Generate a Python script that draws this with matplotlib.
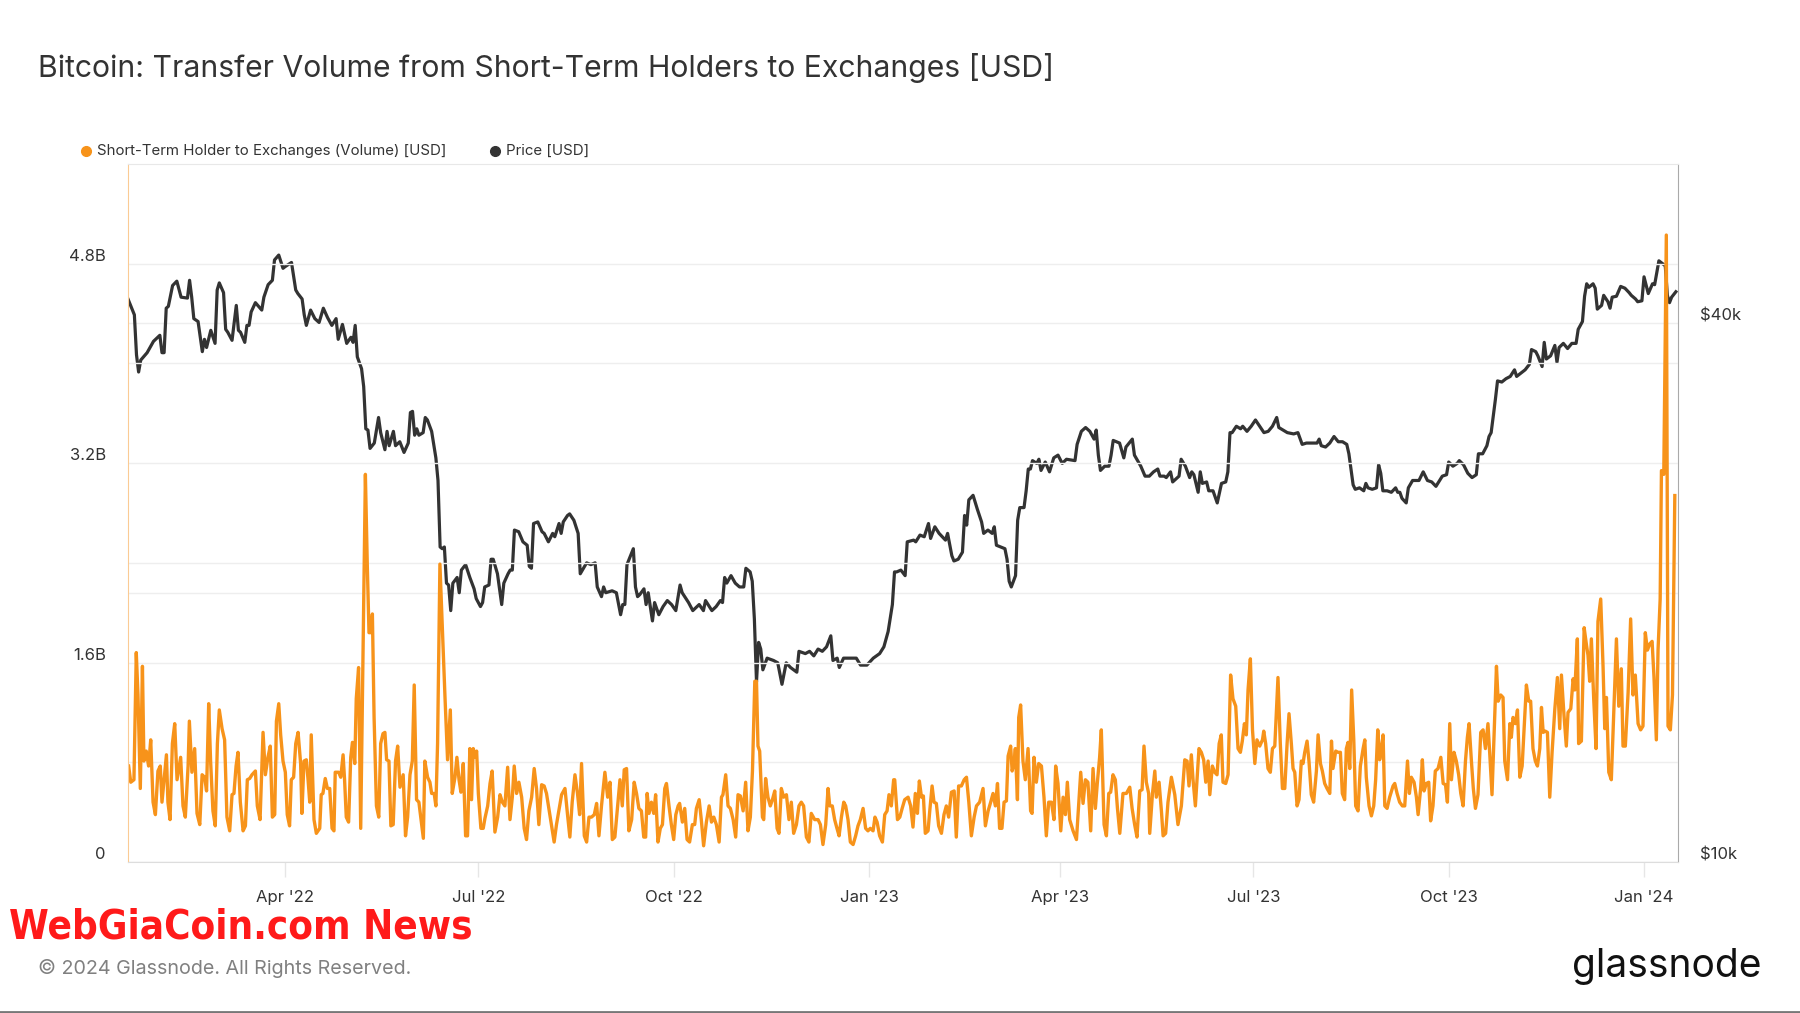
import numpy as np
import pandas as pd
import matplotlib
matplotlib.use("Agg")
import matplotlib.pyplot as plt
import matplotlib.dates as mdates
from matplotlib.lines import Line2D
from matplotlib.ticker import FixedLocator, FixedFormatter, NullLocator

# days counted from the first day of the chart
start = pd.Timestamp("2022-01-17")

# BTC price [k USD]
price_day = [
    0, 3, 4, 5, 6, 9, 12, 15, 16, 17,
    18, 19, 21, 23, 25, 28, 29, 30, 31, 33,
    35, 36, 37, 39, 41, 42, 43, 45, 46, 47,
    49, 51, 52, 53, 55, 56, 57, 58, 60, 63,
    64, 66, 68, 69, 71, 73, 74, 77, 79, 80,
    82, 83, 84, 86, 88, 90, 92, 94, 96, 98,
    99, 101, 103, 105, 106, 107, 108, 110, 111, 112,
    113, 114, 116, 118, 119, 121, 122, 123, 125, 126,
    128, 130, 132, 133, 134, 135, 136, 137, 139, 140,
    141, 143, 145, 146, 147, 148, 149, 150, 151, 152,
    153, 155, 156, 157, 159, 161, 163, 164, 166, 167,
    168, 170, 171, 172, 174, 176, 177, 179, 180, 181,
    182, 184, 186, 188, 189, 190, 191, 193, 195, 196,
    198, 200, 201, 203, 204, 205, 207, 208, 210, 212,
    213, 215, 216, 218, 220, 221, 223, 224, 225, 228,
    230, 232, 233, 234, 235, 236, 238, 239, 240, 241,
    243, 244, 245, 247, 248, 250, 252, 254, 256, 258,
    260, 261, 264, 266, 269, 271, 272, 275, 277, 279,
    280, 281, 282, 284, 286, 288, 290, 291, 293, 294,
    295, 296, 297, 298, 299, 301, 304, 306, 308, 310,
    312, 315, 316, 319, 321, 323, 325, 327, 329, 331,
    332, 334, 335, 337, 340, 343, 345, 348, 351, 354,
    356, 358, 360, 361, 362, 364, 366, 367, 370, 371,
    373, 375, 377, 378, 380, 382, 385, 386, 388, 389,
    391, 393, 394, 395, 396, 398, 400, 402, 403, 405,
    407, 408, 409, 411, 413, 414, 415, 416, 418, 419,
    420, 422, 423, 424, 425, 426, 428, 429, 430, 432,
    434, 436, 438, 440, 442, 446, 447, 449, 451, 453,
    455, 456, 457, 458, 460, 462, 463, 464, 467, 469,
    470, 473, 474, 477, 479, 481, 483, 485, 486, 488,
    489, 491, 492, 495, 496, 498, 500, 501, 502, 504,
    505, 506, 508, 509, 511, 513, 515, 517, 518, 519,
    520, 522, 524, 525, 527, 529, 531, 533, 535, 537,
    539, 541, 542, 544, 546, 549, 551, 553, 555, 557,
    560, 561, 562, 564, 566, 568, 570, 572, 574, 575,
    577, 578, 580, 582, 583, 584, 586, 588, 589, 590,
    591, 593, 595, 597, 598, 599, 600, 602, 603, 605,
    608, 610, 612, 614, 616, 619, 621, 622, 624, 626,
    627, 629, 631, 633, 635, 636, 638, 640, 641, 642,
    644, 645, 647, 649, 651, 653, 654, 656, 658, 660,
    661, 663, 664, 666, 667, 668, 670, 672, 673, 674,
    676, 678, 680, 682, 683, 685, 686, 687, 688, 690,
    691, 692, 694, 695, 697, 698, 699, 701, 703, 705,
    707, 708, 710, 711, 713, 714, 716, 718, 719, 721,
    722, 724, 725, 726, 727, 729,
]
price_k = [
    42.6, 40.9, 36.9, 35.3, 36.4, 37.1, 38.2, 38.8, 37.1, 37.1,
    41.6, 41.8, 44.1, 44.6, 42.8, 42.7, 44.7, 42.8, 40.5, 40.2,
    37.2, 38.4, 37.6, 39.3, 38.0, 43.6, 44.4, 43.3, 39.4, 39.1,
    38.3, 41.9, 39.3, 39.1, 38.1, 39.8, 39.8, 41.2, 42.2, 41.4,
    42.8, 44.2, 44.7, 47.1, 47.7, 46.1, 46.3, 46.8, 43.6, 43.2,
    42.6, 40.9, 39.8, 41.4, 40.5, 40.1, 41.6, 40.6, 39.8, 40.5,
    38.4, 39.9, 38.0, 38.6, 38.1, 39.8, 36.7, 35.6, 34.0, 30.5,
    30.4, 29.0, 29.4, 31.4, 30.2, 28.9, 30.3, 29.2, 30.3, 29.2,
    29.5, 28.7, 29.4, 31.8, 31.9, 30.0, 30.5, 30.0, 30.2, 31.4,
    31.2, 30.3, 28.3, 26.7, 22.5, 22.4, 22.5, 20.5, 20.4, 19.1,
    20.5, 20.8, 20.0, 21.2, 21.5, 20.8, 20.2, 19.7, 19.3, 19.5,
    20.3, 20.4, 21.8, 21.8, 21.0, 19.4, 20.5, 21.0, 21.2, 21.2,
    23.5, 23.4, 22.8, 22.6, 21.4, 21.3, 23.9, 24.0, 23.4, 23.3,
    22.8, 23.3, 23.1, 23.9, 23.3, 24.0, 24.4, 24.5, 24.1, 23.3,
    21.0, 21.4, 21.6, 21.5, 21.6, 20.3, 19.8, 20.3, 20.0, 20.1,
    20.0, 18.9, 19.4, 19.4, 21.5, 21.8, 22.4, 20.3, 19.8, 19.9,
    20.2, 19.4, 20.0, 18.6, 19.5, 18.9, 19.3, 19.6, 19.4, 19.1,
    20.4, 20.0, 19.5, 19.1, 19.4, 19.1, 19.6, 19.1, 19.3, 19.6,
    19.5, 20.8, 20.5, 20.9, 20.5, 20.3, 20.3, 21.3, 21.1, 20.6,
    18.7, 15.9, 17.6, 17.3, 16.4, 16.9, 16.8, 16.7, 15.8, 16.7,
    16.5, 16.3, 17.2, 17.1, 17.2, 17.0, 17.3, 17.2, 17.4, 17.9,
    16.8, 16.9, 16.5, 16.9, 16.9, 16.9, 16.6, 16.6, 16.9, 17.1,
    17.4, 18.1, 19.4, 21.1, 21.1, 21.2, 20.9, 22.8, 22.9, 22.8,
    23.2, 23.1, 23.9, 23.0, 23.7, 23.3, 22.9, 23.3, 22.0, 21.7,
    21.8, 22.2, 24.4, 23.8, 25.4, 25.7, 24.8, 24.0, 23.3, 23.5,
    23.3, 23.7, 22.6, 22.5, 22.4, 21.8, 20.6, 20.3, 20.9, 24.1,
    24.9, 24.9, 26.0, 27.5, 27.5, 28.1, 27.9, 28.2, 27.4, 28.0,
    27.3, 28.3, 28.5, 27.9, 28.2, 28.1, 29.3, 30.3, 30.6, 30.3,
    29.7, 30.4, 28.5, 27.4, 27.7, 27.7, 28.5, 29.6, 29.4, 28.3,
    29.1, 29.7, 28.5, 27.7, 27.0, 27.0, 27.3, 27.5, 27.0, 27.0,
    26.9, 27.3, 26.6, 27.0, 28.2, 27.7, 26.9, 27.3, 27.1, 25.9,
    27.3, 26.5, 26.6, 26.0, 26.0, 25.2, 26.5, 26.6, 27.3, 30.2,
    30.2, 30.7, 30.5, 30.7, 30.3, 30.7, 31.2, 30.7, 30.2, 30.3,
    30.7, 31.4, 30.6, 30.4, 30.2, 30.1, 30.2, 29.3, 29.4, 29.4,
    29.4, 29.7, 29.2, 29.1, 29.4, 29.9, 29.5, 29.5, 29.3, 28.6,
    26.4, 26.1, 26.2, 26.0, 26.5, 26.2, 26.1, 26.2, 27.8, 27.2,
    26.0, 26.0, 25.9, 26.2, 25.9, 25.9, 25.5, 25.2, 26.2, 26.7,
    26.7, 27.3, 26.7, 26.6, 26.3, 27.0, 27.1, 28.0, 27.7, 27.9,
    28.1, 27.8, 27.2, 26.9, 27.1, 28.6, 28.6, 29.2, 29.9, 30.2,
    32.9, 34.5, 34.4, 34.7, 34.9, 35.5, 34.9, 35.2, 35.5, 36.0,
    37.4, 37.2, 36.8, 35.8, 38.1, 36.5, 36.8, 37.8, 36.2, 37.6,
    38.0, 37.5, 38.0, 38.0, 39.4, 40.2, 42.9, 44.3, 43.9, 44.3,
    43.8, 41.5, 41.9, 43.0, 42.3, 41.6, 42.8, 42.9, 44.0, 43.8,
    43.3, 43.0, 42.6, 42.3, 42.4, 45.1, 43.2, 44.3, 44.2, 47.0,
    46.8, 46.4, 43.0, 42.2, 42.8, 43.4,
]

# STH -> exchanges volume [billion USD]
vol_day = [
    0.3, 1.3, 2.8, 3.9, 4.7, 5.8, 6.8, 7.5, 8.6, 9.7,
    10.7, 11.8, 12.9, 14.1, 15.2, 16.0, 17.0, 18.1, 18.8, 19.8,
    20.9, 22.0, 23.1, 24.8, 25.9, 27.0, 28.3, 28.9, 30.1, 31.4,
    32.5, 33.8, 34.9, 36.1, 37.0, 38.0, 38.9, 40.0, 41.1, 42.1,
    43.0, 44.3, 45.5, 46.6, 47.9, 49.0, 49.9, 50.9, 51.8, 52.9,
    54.2, 55.3, 56.2, 57.3, 58.4, 60.0, 60.9, 62.2, 63.6, 64.7,
    65.9, 67.0, 68.0, 69.1, 69.9, 71.0, 71.9, 73.0, 74.1, 75.0,
    76.1, 76.9, 78.0, 79.0, 80.1, 81.3, 81.9, 82.9, 84.0, 84.8,
    85.6, 86.3, 87.6, 88.7, 90.3, 91.0, 91.8, 92.9, 93.9, 95.0,
    96.1, 97.0, 97.6, 99.2, 100.2, 101.3, 102.0, 102.8, 103.9, 104.9,
    105.7, 106.8, 107.5, 108.6, 109.6, 111.8, 112.7, 113.5, 114.3, 115.1,
    115.9, 117.0, 118.1, 119.0, 120.1,
    121.0, 121.8, 122.9, 123.8, 124.9, 126.0, 127.0, 128.1, 129.6, 130.7,
    131.7, 132.8, 133.9, 134.8, 135.9, 137.0, 138.0, 139.1, 139.8, 141.1,
    142.2, 143.0, 144.2, 145.0, 145.8, 146.9, 148.0, 149.3, 150.5, 151.8,
    152.7, 154.0, 154.9, 155.9, 156.8, 157.9, 159.0, 159.9, 161.0, 161.8,
    162.6, 163.4, 164.2, 165.0, 166.2, 167.3, 168.1, 169.4, 170.5, 171.5,
    172.8, 174.1, 175.2, 176.3, 177.5, 178.8, 179.9, 181.0, 181.9, 183.0,
    184.1, 185.4, 186.6, 187.7, 188.8, 190.1, 191.3, 192.4, 193.5, 194.8,
    196.0, 197.1, 198.2, 199.5, 200.7, 201.8, 202.9, 204.2, 205.8, 207.0,
    208.1, 209.2, 210.5, 211.7, 212.7, 213.6, 214.9, 216.0, 217.1, 218.3,
    219.6, 220.7, 221.8, 223.0, 224.6, 225.9, 227.0, 228.1, 229.3, 230.6,
    231.7, 232.8, 233.7, 234.8, 235.9, 237.2, 238.4, 239.5, 240.6,
    241.8, 242.9, 243.8, 244.5, 245.4, 246.5, 247.6, 248.5, 249.6, 250.7,
    251.7, 252.8, 253.6, 254.8, 255.9, 257.0, 258.0, 259.1, 259.8, 261.1,
    262.2, 263.3, 264.5, 265.8, 266.9, 267.7, 269.0, 270.0, 271.1, 272.4,
    273.7, 274.8, 275.9, 277.1, 278.4, 279.5, 280.2, 281.5, 282.6, 283.7,
    285.0, 286.2, 287.3, 288.4, 289.7, 290.9, 292.0, 293.1, 294.1, 295.2,
    296.0, 296.7, 297.5, 298.8, 299.4, 300.3, 301.4, 302.5, 303.5, 304.6,
    305.7, 306.6, 307.7, 308.8, 310.1, 311.3, 312.4, 313.5, 314.8, 316.0,
    317.1, 318.2, 319.5, 320.7, 321.8, 323.4, 325.0, 326.1, 327.3, 328.6,
    329.7, 330.5, 331.7, 332.8, 333.9, 334.9, 336.0, 337.1, 338.0, 339.1,
    340.2, 341.5, 342.7, 343.8, 344.9, 346.2, 347.4, 348.5, 349.6, 350.9,
    351.8, 352.8, 354.0, 355.3, 356.4, 357.5, 358.4, 359.5, 360.6,
    361.1, 362.4, 363.5, 364.6, 365.8, 367.4, 368.6, 369.7, 370.8, 371.8,
    372.7, 373.7, 374.6, 375.5, 376.8, 377.6, 378.7, 379.6, 380.7, 381.8,
    383.1, 384.3, 385.4, 386.5, 387.8, 389.1, 390.1, 391.2, 392.5, 393.8,
    394.9, 396.0, 397.2, 398.5, 399.6, 401.1, 402.7, 403.8, 405.1, 406.3,
    407.4, 408.5, 409.5, 410.5, 411.6, 412.6, 413.7, 414.5, 415.7, 416.4,
    417.3, 417.9, 418.9, 419.5, 420.4, 421.5, 422.6, 423.9, 425.1, 425.8,
    426.7, 427.8, 428.9, 430.2, 431.4, 432.5, 433.6, 434.9, 436.1, 436.9,
    438.0, 439.3, 440.4, 441.5, 442.4, 443.5, 445.1, 446.7, 447.8, 448.7,
    449.8, 450.9, 452.1, 453.4, 454.5, 455.6, 456.5, 457.6, 458.4, 459.7,
    460.8, 461.9, 462.8, 463.9, 465.0, 466.0, 467.1, 468.6, 470.2, 471.8,
    472.9, 474.1, 475.2, 476.5, 477.6, 478.5, 479.6, 480.7,
    481.2, 482.5, 483.6, 484.3, 485.6, 486.7, 487.5, 488.7, 489.8, 491.4,
    493.0, 494.5, 496.1, 497.7, 498.8, 499.7, 500.8, 501.6, 502.7, 504.4,
    505.5, 506.6, 507.6, 508.7, 509.5, 510.7, 511.8, 512.9, 513.9, 514.9,
    515.7, 517.0, 518.1, 519.3, 520.4, 521.7, 522.8, 523.9, 524.8, 525.8,
    526.7, 527.5, 528.6, 529.6, 530.7, 531.7, 533.0, 534.3, 534.9, 535.8,
    536.9, 538.0, 539.0, 540.1, 541.6, 542.7, 543.7, 544.8, 545.9, 546.8,
    547.9, 548.7, 549.5, 550.6, 551.5, 552.6, 553.4, 554.2, 555.3, 556.2,
    557.3, 558.4, 559.7, 560.5, 561.6, 562.5, 563.6, 564.7, 566.0, 566.8,
    567.5, 568.8, 569.9, 571.0, 571.9, 573.0, 573.8, 574.6, 575.4, 576.3,
    577.3, 578.2, 579.3, 580.4, 581.7, 582.5, 583.2, 584.5, 585.6, 586.7,
    587.6, 588.6, 589.5, 590.3, 591.1, 591.9, 593.0, 594.2, 595.8, 596.6,
    597.7, 598.9, 600.2,
    601.3, 602.6, 603.5, 604.4, 605.7, 606.8, 607.6, 608.8, 609.6, 610.4,
    611.5, 612.6, 613.5, 614.6, 615.7, 617.0, 618.3, 619.4, 620.5, 621.4,
    622.5, 623.3, 624.5, 625.6, 626.7, 627.7, 628.8, 629.9, 630.8, 631.6,
    632.7, 633.6, 634.6, 635.8, 637.1, 638.2, 639.3, 640.5, 641.3, 642.4,
    643.4, 644.5, 645.3, 646.5, 647.6, 648.4, 649.7, 650.8, 651.5, 652.3,
    653.4, 654.4, 655.5, 656.6, 657.5, 658.6, 659.7, 660.6, 661.7, 662.8,
    663.8, 664.9, 665.7, 666.5, 667.5, 668.5, 669.6, 670.7, 672.0, 673.2,
    674.3, 675.1, 676.3, 677.4, 678.2, 679.5, 680.6, 681.4, 682.6, 683.2,
    684.5, 685.8, 686.9, 687.6, 688.4, 689.2, 690.3, 691.4, 692.3, 693.6,
    694.7, 695.5, 696.3, 697.4, 698.6, 699.9, 701.0, 702.1, 703.3, 704.1,
    705.2, 706.5, 707.7, 708.8, 709.9, 711.2, 712.4, 713.5, 714.6, 715.6,
    716.7, 717.8, 718.7, 719.8, 720.6, 721.6, 722.2, 723.3, 724.5, 725.3,
    726.4, 727.4, 728.5,
]
vol_b = [
    0.77, 0.64, 0.66, 1.68, 1.34, 0.59, 1.57, 0.81, 0.89, 0.77,
    0.98, 0.48, 0.38, 0.73, 0.77, 0.48, 0.66, 0.86, 0.48, 0.34,
    0.95, 1.11, 0.66, 0.84, 0.45, 0.36, 0.77, 1.13, 0.72, 0.91,
    0.39, 0.30, 0.70, 0.68, 0.57, 1.27, 0.81, 0.41, 0.29, 0.95,
    1.22, 1.07, 0.98, 0.36, 0.25, 0.54, 0.55, 0.77, 0.88, 0.48,
    0.25, 0.29, 0.66, 0.67, 0.70, 0.73, 0.45, 0.34, 1.04, 0.70,
    0.84, 0.93, 0.36, 0.38, 1.13, 1.27, 1.02, 0.81, 0.72, 0.38,
    0.29, 0.66, 0.68, 0.95, 1.04, 0.79, 0.39, 0.81, 0.82, 0.66,
    0.48, 1.02, 0.34, 0.23, 0.27, 0.54, 0.55, 0.67, 0.59, 0.59,
    0.27, 0.25, 0.72, 0.72, 0.68, 0.86, 0.66, 0.36, 0.32, 0.84,
    0.96, 0.79, 1.31, 1.56, 0.27, 3.11, 2.38, 1.84, 1.84, 1.99,
    1.16, 0.45, 0.36, 0.95, 1.03,
    1.04, 0.82, 0.81, 0.29, 0.30, 0.81, 0.93, 0.60, 0.70, 0.21,
    0.36, 0.70, 0.81, 1.42, 0.50, 0.48, 0.34, 0.19, 0.81, 0.68,
    0.64, 0.55, 0.55, 0.45, 0.95, 2.39, 1.90, 1.32, 0.82, 1.22,
    0.55, 0.68, 0.84, 0.66, 0.56, 0.79, 0.21, 0.21, 0.91, 0.50,
    0.91, 0.84, 0.89, 0.55, 0.27, 0.27, 0.35, 0.45, 0.63, 0.73,
    0.24, 0.36, 0.54, 0.48, 0.45, 0.76, 0.34, 0.52, 0.77, 0.55,
    0.64, 0.52, 0.27, 0.18, 0.41, 0.52, 0.75, 0.59, 0.30, 0.62,
    0.61, 0.55, 0.43, 0.29, 0.16, 0.30, 0.41, 0.54, 0.59, 0.38,
    0.20, 0.48, 0.70, 0.55, 0.38, 0.79, 0.21, 0.16, 0.36, 0.36,
    0.38, 0.47, 0.21, 0.45, 0.72, 0.52, 0.64, 0.18, 0.20, 0.45,
    0.66, 0.45, 0.74, 0.75, 0.25, 0.34, 0.64, 0.55, 0.43,
    0.41, 0.20, 0.20, 0.55, 0.39, 0.48, 0.39, 0.54, 0.16, 0.27,
    0.30, 0.59, 0.63, 0.45, 0.30, 0.18, 0.38, 0.45, 0.47, 0.32,
    0.43, 0.18, 0.16, 0.30, 0.30, 0.43, 0.50, 0.34, 0.13, 0.32,
    0.45, 0.32, 0.36, 0.30, 0.16, 0.52, 0.54, 0.70, 0.45, 0.43,
    0.34, 0.20, 0.54, 0.53, 0.41, 0.64, 0.25, 0.36, 0.73, 1.45,
    1.45, 0.93, 0.89, 0.36, 0.34, 0.67, 0.52, 0.45, 0.50, 0.57,
    0.27, 0.23, 0.59, 0.52, 0.54, 0.34, 0.48, 0.23, 0.30, 0.45,
    0.48, 0.45, 0.20, 0.16, 0.39, 0.34, 0.34, 0.30, 0.14, 0.30,
    0.59, 0.45, 0.45, 0.34, 0.27, 0.21, 0.36, 0.48, 0.45, 0.34,
    0.16, 0.14, 0.21, 0.29, 0.34, 0.43, 0.27, 0.25, 0.27, 0.25,
    0.36, 0.32, 0.21, 0.16, 0.38, 0.41, 0.54, 0.45, 0.66,
    0.66, 0.34, 0.36, 0.43, 0.50, 0.52, 0.45, 0.28, 0.55, 0.39,
    0.65, 0.52, 0.53, 0.23, 0.25, 0.41, 0.61, 0.48, 0.47, 0.29,
    0.23, 0.38, 0.45, 0.36, 0.56, 0.57, 0.20, 0.61, 0.61, 0.66,
    0.68, 0.48, 0.21, 0.36, 0.45, 0.48, 0.59, 0.29, 0.41, 0.48,
    0.55, 0.45, 0.63, 0.27, 0.27, 0.48, 0.49, 0.85, 0.93, 0.73,
    0.79, 0.91, 0.50, 1.16, 1.26, 0.81, 0.66, 0.91, 0.41, 0.39,
    0.84, 0.64, 0.79, 0.77, 0.52, 0.21, 0.48, 0.48, 0.34, 0.77,
    0.63, 0.25, 0.52, 0.38, 0.64, 0.34, 0.25, 0.18, 0.48, 0.72,
    0.47, 0.66, 0.64, 0.25, 0.75, 0.43, 0.63, 0.84, 1.06, 0.30,
    0.21, 0.55, 0.56, 0.70, 0.66, 0.43, 0.23, 0.55, 0.55, 0.60,
    0.43, 0.30, 0.20, 0.57, 0.58, 0.93, 0.64, 0.55,
    0.23, 0.55, 0.73, 0.52, 0.64, 0.41, 0.21, 0.23, 0.48, 0.68,
    0.54, 0.30, 0.45, 0.82, 0.81, 0.61, 0.86, 0.66, 0.45, 0.91,
    0.88, 0.82, 0.64, 0.81, 0.54, 0.77, 0.72, 0.70, 0.95, 1.02,
    0.64, 0.63, 0.70, 1.50, 1.31, 1.25, 0.91, 0.88, 0.97, 1.11,
    1.02, 1.38, 1.63, 1.06, 0.79, 0.98, 0.93, 0.98, 1.05, 0.95,
    0.75, 0.72, 0.91, 0.93, 1.48, 0.95, 0.59, 0.59, 0.95, 1.19,
    0.95, 0.75, 0.72, 0.45, 0.50, 0.81, 0.79, 0.88, 0.97, 0.81,
    0.54, 0.48, 0.73, 1.02, 0.79, 0.73, 0.63, 0.59, 0.55, 0.97,
    0.75, 0.89, 0.88, 0.88, 0.55, 0.50, 0.91, 0.96, 0.75, 1.38,
    0.98, 0.45, 0.41, 0.77, 0.91, 0.98, 0.68, 0.45, 0.37, 0.45,
    0.66, 1.06, 0.82, 0.91, 1.02, 0.45, 0.43, 0.52, 0.61, 0.63,
    0.55, 0.48, 0.45,
    0.45, 0.81, 0.55, 0.68, 0.64, 0.52, 0.38, 0.59, 0.82, 0.57,
    0.63, 0.64, 0.33, 0.45, 0.73, 0.75, 0.84, 0.63, 0.62, 0.48,
    1.11, 0.66, 0.88, 0.81, 0.70, 0.55, 0.45, 0.81, 1.00, 1.11,
    0.81, 0.59, 0.43, 0.54, 1.04, 1.06, 0.91, 1.11, 0.88, 0.54,
    1.04, 1.57, 1.29, 1.34, 1.32, 0.81, 0.66, 1.11, 1.00, 1.16,
    1.11, 1.22, 0.68, 0.77, 1.07, 1.42, 1.29, 1.29, 0.91, 0.81,
    0.77, 0.91, 1.24, 1.04, 1.05, 1.04, 0.52, 0.88, 1.23, 1.48,
    1.07, 1.50, 1.18, 0.93, 1.20, 1.23, 1.47, 1.38, 1.79, 0.95,
    0.97, 1.88, 1.74, 1.66, 1.45, 1.79, 1.31, 0.91, 1.93, 2.11,
    1.57, 1.07, 1.32, 0.72, 0.66, 1.27, 1.79, 1.25, 1.55, 0.93,
    0.93, 1.36, 1.95, 1.34, 1.50, 1.11, 1.06, 1.09, 1.84, 1.70,
    1.75, 1.77, 1.48, 0.98, 1.70, 2.11, 3.14, 3.11, 5.03, 1.09,
    1.06, 1.34, 2.94,
]

assert len(price_day) == len(price_k)
assert len(vol_day) == len(vol_b)

price_dates = start + pd.to_timedelta(price_day, unit="D")
vol_dates = start + pd.to_timedelta(vol_day, unit="D")

title = "Bitcoin: Transfer Volume from Short-Term Holders to Exchanges [USD]"
vol_label = "Short-Term Holder to Exchanges (Volume) [USD]"
price_label = "Price [USD]"
vol_ticks = [0, 0.8, 1.6, 2.4, 3.2, 4.0, 4.8]
vol_ticklabels = ["0", "", "1.6B", "", "3.2B", "", "4.8B"]
price_ticks = [10, 20, 40]
price_ticklabels = ["$10k", "", "$40k"]

ORANGE = "#f7931a"
DARK = "#333333"
GRID = "#eeeeee"
FONT = ["Inter", "DejaVu Sans"]

plt.rcParams["font.family"] = FONT

W, H = 1800, 1013
fig = plt.figure(figsize=(18, 10.13), dpi=100)
ax = fig.add_axes([128 / W, 1 - 862 / H, 1550 / W, 698 / H])
axp = ax.twinx()
ax.set_zorder(axp.get_zorder() + 1)
ax.patch.set_visible(False)

axp.plot(price_dates, price_k, color=DARK, lw=2.3, solid_joinstyle="round")
ax.plot(vol_dates, vol_b, color=ORANGE, lw=2.4, solid_joinstyle="round")

ax.set_xlim(start, start + pd.Timedelta(days=730))
ax.set_ylim(0, 5.6)
axp.set_yscale("log")
axp.set_ylim(10, 60.3)

# y axes
ax.yaxis.set_major_locator(FixedLocator(vol_ticks))
ax.yaxis.set_major_formatter(FixedFormatter(vol_ticklabels))
axp.yaxis.set_major_locator(FixedLocator(price_ticks))
axp.yaxis.set_major_formatter(FixedFormatter(price_ticklabels))
axp.yaxis.set_minor_locator(NullLocator())
ax.tick_params(axis="y", length=0, pad=16, labelsize=12, labelcolor=DARK)
axp.tick_params(axis="y", length=0, pad=16, labelsize=12, labelcolor=DARK)
for lab in ax.get_yticklabels() + axp.get_yticklabels():
    lab.set_va("bottom")
ax.yaxis.grid(True, color=GRID, lw=1)
axp.yaxis.grid(True, color=GRID, lw=1)

# x axis
ax.xaxis.set_major_locator(mdates.MonthLocator(bymonth=[1, 4, 7, 10]))
ax.xaxis.set_major_formatter(mdates.DateFormatter("%b '%y"))
ax.tick_params(axis="x", length=11, width=1, color="#e6e6e6", pad=9.5,
               labelsize=12, labelcolor=DARK)
axp.tick_params(axis="x", length=0)

for a in (ax, axp):
    for s in a.spines.values():
        s.set_visible(False)
ax.spines["left"].set_visible(True)
ax.spines["left"].set_color("#fbcb94")
ax.spines["bottom"].set_visible(True)
ax.spines["bottom"].set_color("#dddddd")
ax.spines["top"].set_visible(True)
ax.spines["top"].set_color("#e8e8e8")
axp.spines["right"].set_visible(True)
axp.spines["right"].set_color("#aaaaaa")

# title and legend
fig.text(38 / W, 1 - 68 / H, title, fontsize=21.7, color=DARK, va="center")
leg_y = 1 - 151 / H
fig.add_artist(Line2D([86 / W], [leg_y], marker="o", ms=7, color=ORANGE,
                      lw=0, transform=fig.transFigure))
fig.text(97 / W, leg_y, vol_label, fontsize=10.8, color=DARK, va="center")
fig.add_artist(Line2D([495 / W], [leg_y], marker="o", ms=7, color=DARK,
                      lw=0, transform=fig.transFigure))
fig.text(506 / W, leg_y, price_label, fontsize=10.8, color=DARK, va="center")

# footer
wm = fig.text(9 / W, 1 - 927 / H, "WebGiaCoin.com News", fontsize=30,
              color="#ff1a1a", weight="bold", stretch="condensed", va="center",
              family=["DejaVu Sans"])
fig.canvas.draw()
wm_w = wm.get_window_extent().width
wm.set_fontsize(30 * 464 / wm_w)

fig.text(38 / W, 1 - 968 / H, "\u00a9 2024 Glassnode. All Rights Reserved.",
         fontsize=14.2, color="#808080", va="center")
fig.text(1762 / W, 1 - 966 / H, "glassnode", fontsize=28, color="#111111",
         ha="right", va="center")
fig.add_artist(Line2D([0, 1], [1.5 / H, 1.5 / H], color="#777777", lw=2,
                      transform=fig.transFigure))

fig.savefig("out.png", dpi=100)
